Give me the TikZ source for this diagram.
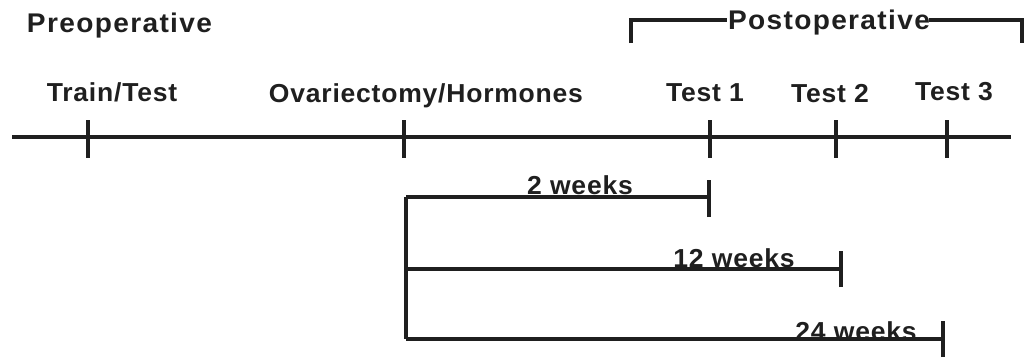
\documentclass[tikz,border=0pt]{standalone}
\usepackage{fontspec}
\setmainfont{Liberation Sans}
\newfontfamily\headfont{Liberation Sans}[FakeStretch=1.04,LetterSpace=5]
\newfontfamily\labelfont{Liberation Sans}[FakeStretch=1.02,LetterSpace=3]
\begin{document}
\begin{tikzpicture}[x=1pt,y=-1pt,
  ink/.style={line width=3.6pt,draw=black!88},
  lbl/.style={inner sep=0pt,outer sep=0pt,font=\labelfont\fontsize{26}{26}\selectfont\bfseries,text=black!88},
  head/.style={lbl,font=\headfont\fontsize{27}{27}\selectfont\bfseries},
  tickmark/.style={ink}]
\useasboundingbox (0,0) rectangle (1024,360);

% headings
\node[head,anchor=base west] (pre) at (27,32) {Preoperative};
\node[head,anchor=base west] (post) at (728,29) {Postoperative};

% bracket over the postoperative phase
\coordinate (bl) at (631,43);
\coordinate (br) at (1022,43);
\draw[ink] (bl) |- ([xshift=-1pt,yshift=9pt]post.base west);
\draw[ink] ([xshift=-1pt,yshift=9pt]post.base east) -| (br);

% timeline and its ticks
\coordinate (tl0) at (12,137);
\coordinate (tl1) at (1011,137);
\draw[ink] (tl0) -- (tl1);
\foreach \n/\x in {tt/88,ovx/404,t1/710,t2/836,t3/947}{
  \coordinate (\n top) at (\x,120);
  \coordinate (\n bot) at (\x,158);
  \draw[tickmark] (\n top) -- (\n bot);
}

% event labels
\node[lbl,anchor=base] (ltt) at (112,101) {Train/Test};
\node[lbl,anchor=base] (lovx) at (426,102) {Ovariectomy/Hormones};
\node[lbl,anchor=base] (lt1) at (705,101) {Test 1};
\node[lbl,anchor=base] (lt2) at (830,102) {Test 2};
\node[lbl,anchor=base] (lt3) at (954,100) {Test 3};

% intervals after surgery
\coordinate (s2) at (406,197);
\coordinate (s12) at (406,269);
\coordinate (s24) at (406,339);
\coordinate (e2) at (709,197);
\coordinate (e12) at (841,269);
\coordinate (e24) at (943,339);
\draw[ink] (s2) -- (s24);
\draw[ink] (s2) -- (e2);
\draw[ink] (s12) -- (e12);
\draw[ink] (s24) -- (e24);
\draw[tickmark] ([yshift=-20pt]e2) -- ([yshift=17pt]e2);
\draw[tickmark] ([yshift=-18pt]e12) -- ([yshift=18pt]e12);
\draw[tickmark] ([yshift=-18pt]e24) -- ([yshift=18pt]e24);

\node[lbl,anchor=base] (w2) at (580,194) {2 weeks};
\node[lbl,anchor=base] (w12) at (734,267) {12 weeks};
\node[lbl,anchor=base] (w24) at (856,340) {24 weeks};
\end{tikzpicture}
\end{document}
